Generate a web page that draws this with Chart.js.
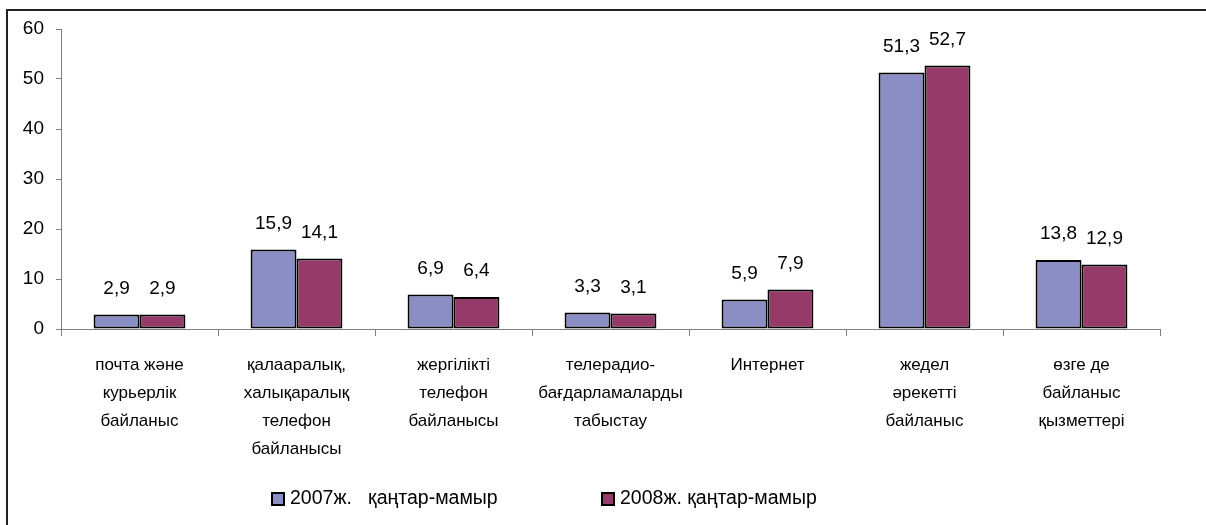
<!DOCTYPE html>
<html>
<head>
<meta charset="utf-8">
<script src="https://cdn.jsdelivr.net/npm/chart.js@4"></script>
<style>
  body { margin: 0; background: #fff; }
  #wrap { width: 1206px; height: 525px; position: relative; }
</style>
</head>
<body>
<div id="wrap"><canvas id="chart"></canvas></div>
<script>
// data
const categories = [
  ["почта және", "курьерлік", "байланыс"],
  ["қалааралық,", "халықаралық", "телефон", "байланысы"],
  ["жергілікті", "телефон", "байланысы"],
  ["телерадио-", "бағдарламаларды", "табыстау"],
  ["Интернет"],
  ["жедел", "әрекетті", "байланыс"],
  ["өзге де", "байланыс", "қызметтері"]
];
const values2007 = [2.9, 15.9, 6.9, 3.3, 5.9, 51.3, 13.8];
const values2008 = [2.9, 14.1, 6.4, 3.1, 7.9, 52.7, 12.9];
const seriesNames = ["2007ж.   қаңтар-мамыр", "2008ж. қаңтар-мамыр"];
const yTicks = [0, 10, 20, 30, 40, 50, 60];

const colors = ["#8b8ec4", "#963a69"];
const FONT = "'Liberation Sans', Arial, sans-serif";

// value labels above each bar, with a decimal comma
const valueLabels = {
  id: "valueLabels",
  afterDatasetsDraw(chart) {
    const ctx = chart.ctx;
    ctx.save();
    ctx.font = "19px " + FONT;
    ctx.fillStyle = "#000";
    ctx.textAlign = "center";
    ctx.textBaseline = "middle";
    chart.data.datasets.forEach((ds, i) => {
      chart.getDatasetMeta(i).data.forEach((bar, j) => {
        let txt = String(ds.data[j]).replace(".", ",");
        ctx.fillText(txt, bar.x, bar.y - 26);
      });
    });
    ctx.restore();
  }
};

// legend drawn by hand so the wide gap between items matches
const bottomLegend = {
  id: "bottomLegend",
  afterDraw(chart) {
    const ctx = chart.ctx;
    const xs = [272, 602];
    const y = 499;
    ctx.save();
    ctx.font = "19.5px " + FONT;
    ctx.textBaseline = "middle";
    ctx.textAlign = "left";
    chart.data.datasets.forEach((ds, i) => {
      ctx.fillStyle = ds.backgroundColor;
      ctx.fillRect(xs[i], y - 6, 12, 12);
      ctx.lineWidth = 2;
      ctx.strokeStyle = "#000";
      ctx.strokeRect(xs[i], y - 6, 12, 12);
      ctx.fillStyle = "#000";
      ctx.fillText(ds.label, xs[i] + 18, y);
    });
    ctx.restore();
  }
};

// outer frame of the chart object
const frame = {
  id: "frame",
  afterDraw(chart) {
    const ctx = chart.ctx;
    ctx.save();
    ctx.strokeStyle = "#222";
    ctx.lineWidth = 2;
    ctx.strokeRect(7, 10, 1400, 700);
    ctx.restore();
  }
};

const ctx = document.getElementById("chart").getContext("2d");
new Chart(ctx, {
  type: "bar",
  data: {
    labels: categories,
    datasets: [
      { label: seriesNames[0], data: values2007, backgroundColor: colors[0] },
      { label: seriesNames[1], data: values2008, backgroundColor: colors[1] }
    ]
  },
  options: {
    responsive: true,
    maintainAspectRatio: false,
    animation: false,
    layout: { padding: { top: 29, right: 46, left: 0, bottom: 61 } },
    datasets: {
      bar: {
        borderColor: "#000",
        borderWidth: 2,
        borderSkipped: false,
        categoryPercentage: 0.585,
        barPercentage: 1
      }
    },
    plugins: {
      legend: { display: false },
      tooltip: { enabled: false }
    },
    scales: {
      x: {
        afterFit(scale) { scale.height = 135; },
        grid: {
          offset: true,
          drawOnChartArea: false,
          drawTicks: true,
          tickLength: 7,
          color: "#808080"
        },
        border: { color: "#808080" },
        ticks: {
          color: "#000",
          padding: 15,
          maxRotation: 0,
          autoSkip: false,
          font: { family: FONT, size: 17, lineHeight: 1.66 }
        }
      },
      y: {
        min: 0,
        max: 60,
        afterFit(scale) { scale.width = 61; },
        afterBuildTicks(scale) { scale.ticks = yTicks.map((v) => ({ value: v })); },
        grid: {
          drawOnChartArea: false,
          drawTicks: true,
          tickLength: 5,
          color: "#808080"
        },
        border: { color: "#808080" },
        ticks: {
          color: "#000",
          padding: 12,
          font: { family: FONT, size: 19 }
        }
      }
    }
  },
  plugins: [valueLabels, bottomLegend, frame]
});
</script>
</body>
</html>
